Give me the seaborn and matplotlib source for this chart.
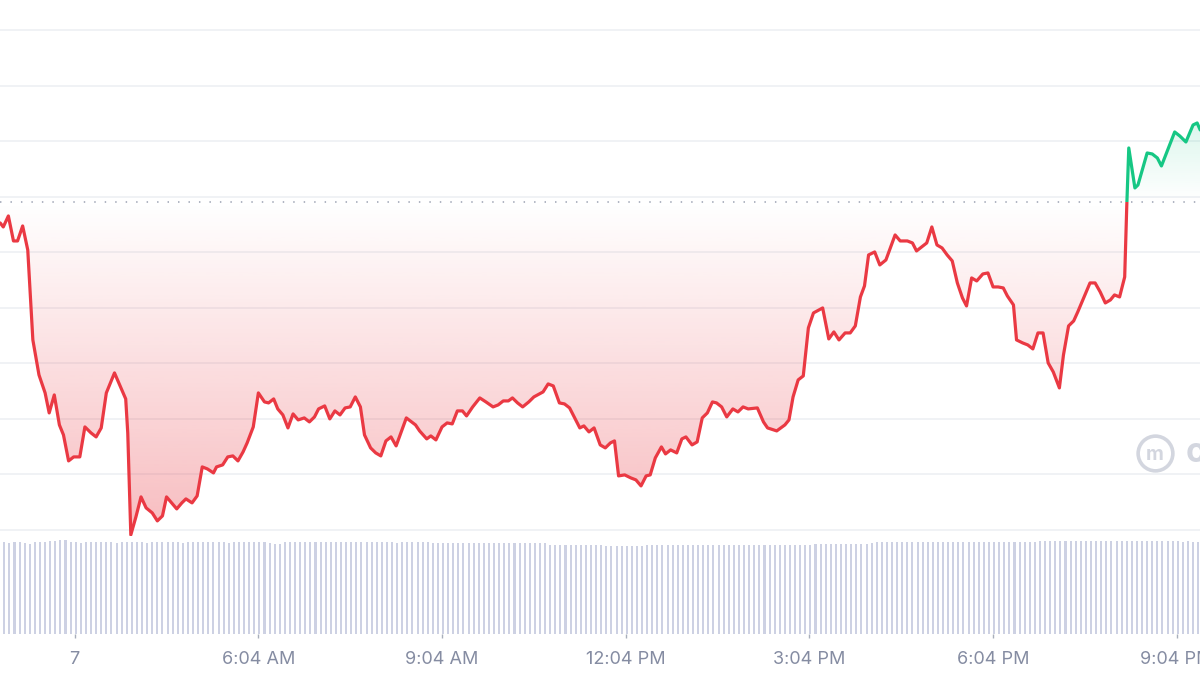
import numpy as np
import matplotlib
matplotlib.use("Agg")
import matplotlib.pyplot as plt
from matplotlib.patches import Rectangle
import seaborn as sns

# price trace: minutes since midnight and price (arbitrary units)
price_minutes = [
    111, 114, 119, 124, 128, 133, 138, 143, 149, 155, 159, 164, 169, 173, 178,
    183, 189, 194, 200, 205, 210, 215, 223, 234, 236, 239, 244, 249, 254, 260,
    265, 270, 274, 279, 284, 289, 293, 299, 304, 309, 314, 320, 323, 329, 334,
    339, 344, 349, 353, 359, 364, 370, 374, 379, 383, 388, 393, 398, 403, 409,
    414, 419, 423, 429, 434, 439, 444, 449, 454, 459, 464, 468, 474, 479, 484,
    489, 494, 499, 509, 518, 522, 529, 533, 538, 544, 549, 554, 559, 564, 568,
    574, 581, 587, 594, 599, 604, 609, 613, 618, 623, 629, 634, 643, 648, 653,
    659, 664, 669, 674, 679, 683, 688, 693, 699, 704, 709, 713, 717, 723, 729,
    734, 739, 744, 748, 753, 759, 763, 768, 774, 779, 783, 789, 794, 799, 804,
    809, 813, 818, 823, 829, 834, 839, 844, 853, 859, 863, 872, 880, 884, 888,
    893, 898, 903, 908, 917, 923, 928, 933, 939, 944, 949, 954, 958, 962, 968,
    973, 979, 988, 993, 1000, 1005, 1009, 1014, 1019, 1024, 1029, 1034, 1039, 1044, 1049,
    1054, 1058, 1063, 1068, 1074, 1079, 1084, 1089, 1094, 1098, 1104, 1107, 1113, 1118, 1123,
    1128, 1133, 1138, 1143, 1149, 1153, 1158, 1163, 1167, 1172, 1179, 1184, 1189, 1194, 1199,
    1203, 1208, 1213, 1215, 1217, 1223, 1226, 1235, 1240, 1245, 1249, 1254, 1262, 1267, 1273,
    1280, 1284, 1287,
]
price_values = [
    155.26, 154.54, 156.52, 152.02, 152.02, 154.72, 150.40, 134.20, 127.90, 124.66,
    121.06, 124.30, 118.90, 117.10, 112.42, 113.14, 113.14, 118.54, 117.46, 116.74,
    118.36, 124.66, 128.26, 123.58, 117.46, 99.10, 102.34, 105.94, 103.96, 103.06,
    101.62, 102.52, 105.94, 104.86, 103.78, 104.86, 105.58, 104.86, 106.12, 111.34,
    110.98, 110.26, 111.34, 111.70, 113.14, 113.32, 112.42, 114.04, 115.66, 118.54,
    124.66, 123.04, 122.86, 123.58, 121.78, 120.70, 118.36, 120.88, 119.80, 120.16,
    119.44, 120.34, 121.78, 122.32, 119.98, 121.42, 120.70, 121.96, 122.14, 123.94,
    122.14, 117.10, 114.76, 113.86, 113.32, 116.02, 116.74, 115.12, 120.16, 118.90,
    117.82, 116.38, 116.92, 116.20, 118.54, 119.26, 119.08, 121.42, 121.42, 120.52,
    122.14, 123.76, 123.04, 122.14, 122.50, 123.22, 123.22, 123.76, 122.86, 122.14,
    123.04, 123.94, 124.84, 126.28, 125.92, 122.86, 122.68, 121.96, 120.16, 118.36,
    118.72, 117.64, 118.36, 115.30, 114.76, 115.66, 116.02, 109.72, 109.90, 109.36,
    109.00, 107.92, 109.72, 109.90, 112.96, 114.94, 113.68, 114.40, 113.86, 116.38,
    116.74, 115.30, 115.84, 120.16, 121.06, 123.04, 122.86, 122.14, 120.34, 121.78,
    121.24, 122.14, 121.78, 121.96, 119.44, 118.36, 117.82, 118.90, 119.80, 123.94,
    127.00, 127.72, 136.36, 139.06, 139.96, 134.38, 135.64, 134.20, 135.46, 135.46,
    136.72, 141.94, 143.92, 149.50, 150.04, 147.70, 148.60, 153.10, 152.02, 152.02,
    151.66, 150.22, 150.94, 151.66, 154.54, 151.30, 150.76, 149.50, 148.42, 144.46,
    141.76, 140.32, 145.36, 144.82, 146.08, 146.26, 143.74, 143.74, 143.56, 142.12,
    140.50, 134.20, 133.66, 133.30, 132.58, 135.46, 135.46, 130.06, 128.44, 125.56,
    131.50, 136.72, 137.62, 139.24, 141.40, 144.46, 144.46, 142.84, 140.86, 141.40,
    142.30, 141.94, 145.54, 158.14, 168.76, 161.56, 162.10, 167.86, 167.68, 166.96,
    165.52, 167.86, 171.64, 170.92, 169.84, 172.90, 173.26, 172.00,
]
open_price = 158.95

# 5-minute volume bars
vol_start, vol_step = 115, 5
volume = [
    9.2, 9.1, 9.2, 9.2, 9.1, 9.0, 9.2, 9.2, 9.2, 9.3,
    9.3, 9.4, 9.4, 9.2, 9.2, 9.1, 9.2, 9.2, 9.2, 9.2,
    9.2, 9.2, 9.1, 9.2, 9.2, 9.2, 9.2, 9.2, 9.1, 9.2,
    9.2, 9.2, 9.2, 9.2, 9.2, 9.1, 9.2, 9.2, 9.2, 9.2,
    9.2, 9.2, 9.2, 9.2, 9.1, 9.2, 9.2, 9.2, 9.2, 9.2,
    9.2, 9.2, 9.1, 9.0, 9.0, 9.2, 9.2, 9.2, 9.2, 9.2,
    9.2, 9.2, 9.2, 9.2, 9.2, 9.2, 9.2, 9.2, 9.2, 9.2,
    9.2, 9.2, 9.2, 9.2, 9.2, 9.2, 9.2, 9.1, 9.2, 9.2,
    9.2, 9.2, 9.2, 9.2, 9.1, 9.1, 9.1, 9.1, 9.1, 9.1,
    9.1, 9.1, 9.1, 9.1, 9.1, 9.1, 9.1, 9.1, 9.1, 9.1,
    9.1, 9.1, 9.1, 9.1, 9.1, 9.1, 9.1, 8.9, 8.9, 8.9,
    8.9, 8.9, 8.9, 8.9, 8.9, 8.9, 8.9, 8.9, 8.8, 8.8,
    8.8, 8.8, 8.8, 8.8, 8.8, 8.8, 8.9, 8.9, 8.9, 8.9,
    8.9, 8.9, 8.9, 8.9, 8.9, 8.9, 8.9, 8.9, 8.9, 8.9,
    8.9, 8.9, 8.9, 8.9, 8.9, 8.9, 8.9, 8.9, 8.9, 8.9,
    8.9, 8.9, 8.9, 8.9, 8.9, 8.9, 8.9, 8.9, 8.9, 9.0,
    9.0, 9.0, 9.0, 9.0, 9.0, 9.0, 9.0, 9.0, 9.0, 9.0,
    9.1, 9.2, 9.2, 9.2, 9.2, 9.2, 9.2, 9.2, 9.2, 9.2,
    9.2, 9.2, 9.2, 9.2, 9.2, 9.2, 9.2, 9.2, 9.2, 9.2,
    9.2, 9.2, 9.2, 9.2, 9.2, 9.2, 9.2, 9.2, 9.2, 9.2,
    9.2, 9.2, 9.2, 9.3, 9.3, 9.3, 9.3, 9.3, 9.3, 9.3,
    9.3, 9.3, 9.3, 9.3, 9.3, 9.3, 9.3, 9.3, 9.3, 9.3,
    9.3, 9.3, 9.3, 9.3, 9.3, 9.3, 9.3, 9.3, 9.3, 9.3,
    9.3, 9.2, 9.3, 9.2, 9.2,
]
vol_minutes = vol_start + vol_step * np.arange(len(volume))

tick_minutes = [184, 364, 544, 724, 904, 1084, 1264]
tick_labels = ["7", "6:04 AM", "9:04 AM", "12:04 PM", "3:04 PM", "6:04 PM", "9:04 PM"]
grid_levels = [100, 110, 120, 130, 140, 150, 160, 170, 180, 190]

RED = "#ea3943"
GREEN = "#16c784"
XMIN, XMAX = 110.8, 1286.8
YMIN, YMAX = 98.9, 195.4

sns.set_theme(style="white")
plt.rcParams["font.family"] = ["Inter", "DejaVu Sans"]

fig = plt.figure(figsize=(12, 6.75), dpi=100)
ax = fig.add_axes([0, 1 - 536 / 675, 1, 536 / 675])
axv = fig.add_axes([0, 41 / 675, 1, 98 / 675], sharex=ax)

t = np.array(price_minutes, dtype=float)
p = np.array(price_values)

# grid and open-price baseline
for g in grid_levels:
    ax.axhline(g, color="#eff1f4", lw=1.3, zorder=0)
ax.axhline(open_price, color="#a9afbd", lw=1.3, ls=(0, (0.8, 5)), zorder=1)

# gradient fills between line and baseline
poly = ax.fill_between(t, p, open_price, color="none", lw=0)
clip = poly.get_paths()[0]

red_img = np.zeros((256, 1, 4))
red_img[..., :3] = matplotlib.colors.to_rgb(RED)
red_img[..., 3] = np.linspace(0.34, 0.0, 256).reshape(-1, 1)
im_r = ax.imshow(red_img, extent=[XMIN, XMAX, YMIN, open_price], origin="lower",
                 aspect="auto", interpolation="bilinear", zorder=1)
im_r.set_clip_path(clip, transform=ax.transData)

green_img = np.zeros((256, 1, 4))
green_img[..., :3] = matplotlib.colors.to_rgb(GREEN)
green_img[..., 3] = np.linspace(0.0, 0.22, 256).reshape(-1, 1)
im_g = ax.imshow(green_img, extent=[XMIN, XMAX, open_price, 180], origin="lower",
                 aspect="auto", interpolation="bilinear", zorder=1)
im_g.set_clip_path(clip, transform=ax.transData)

# price line, red below open and green above
sns.lineplot(x=t, y=p, ax=ax, color=RED, lw=2.3, zorder=3)
sns.lineplot(x=t, y=p, ax=ax, color=GREEN, lw=2.3, zorder=3)
red_line, green_line = ax.lines[-2], ax.lines[-1]
for ln in (red_line, green_line):
    ln.set_solid_joinstyle("round")
    ln.set_solid_capstyle("round")
red_line.set_clip_path(Rectangle((XMIN - 50, YMIN - 50), XMAX - XMIN + 100,
                                 open_price - YMIN + 50, transform=ax.transData))
green_line.set_clip_path(Rectangle((XMIN - 50, open_price), XMAX - XMIN + 100,
                                   YMAX - open_price + 50, transform=ax.transData))

# watermark
ax.plot([0.9625], [0.155], transform=ax.transAxes, marker="o", ms=25,
        mfc="none", mec="#d3d6df", mew=2.6, zorder=2)
ax.text(0.9625, 0.152, "m", transform=ax.transAxes, ha="center", va="center",
        color="#d3d6df", fontsize=14, fontweight="bold", zorder=2)
ax.text(0.988, 0.155, "c", transform=ax.transAxes, ha="left", va="center",
        color="#d3d6df", fontsize=24, fontweight="bold", zorder=2)

ax.set_xlim(XMIN, XMAX)
ax.set_ylim(YMIN, YMAX)
ax.set_yticks([])
ax.set_xlabel("")
ax.set_ylabel("")
ax.tick_params(axis="x", bottom=False, labelbottom=False)
for s in ax.spines.values():
    s.set_visible(False)

# volume bars
axv.bar(vol_minutes, volume, width=2.0, color="#cdd1e3", lw=0)
axv.set_ylim(0, 9.8)
axv.set_yticks([])
axv.set_xticks(tick_minutes)
axv.set_xticklabels(tick_labels)
axv.tick_params(axis="x", bottom=True, length=3, width=1, color="#a8aebb",
                pad=9, labelsize=13, labelcolor="#858ca2")
for s in axv.spines.values():
    s.set_visible(False)
axv.set_xlim(XMIN, XMAX)

fig.savefig("out.png", dpi=100)
